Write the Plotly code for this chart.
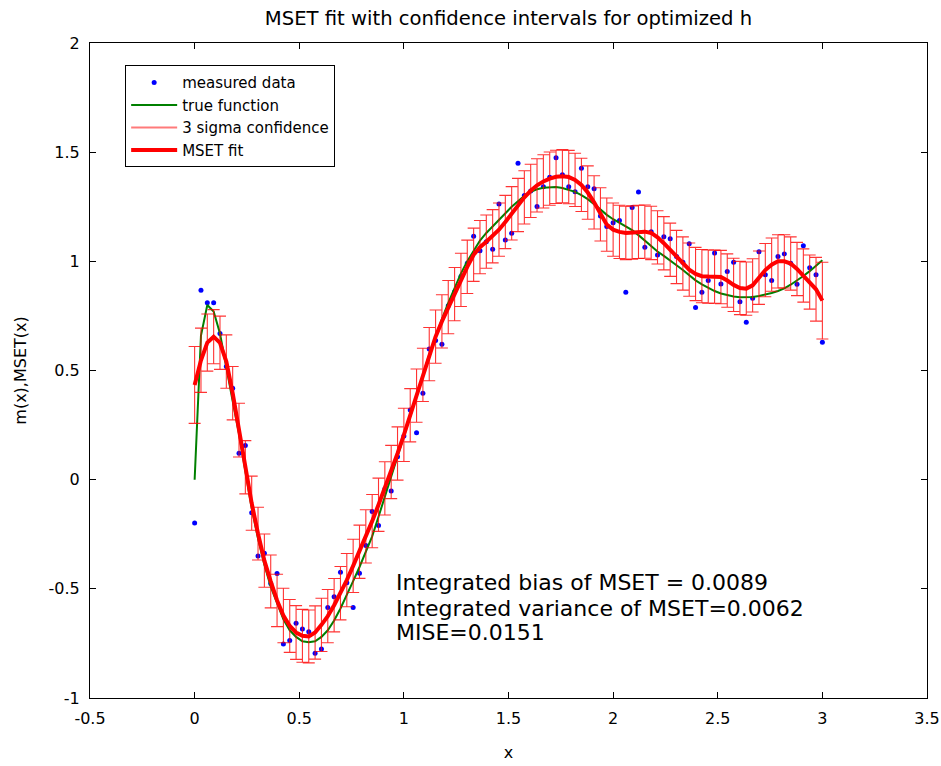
import numpy as np
import plotly.graph_objects as go

# sample grid (100 equally spaced points on [0, 3])
x = np.linspace(0, 3, 100)

measured = [
    -0.198, 0.868, 0.81, 0.81, 0.67, 0.518, 0.419, 0.121, 0.156, -0.151,
    -0.35, -0.337, -0.475, -0.43, -0.753, -0.737, -0.658, -0.684, -0.696, -0.795,
    -0.776, -0.586, -0.536, -0.424, -0.472, -0.586, -0.429, -0.302, -0.146, -0.21,
    -0.043, -0.052, 0.105, 0.2, 0.319, 0.215, 0.396, 0.599, 0.637, 0.62,
    0.796, 0.861, 0.93, 0.991, 1.115, 1.048, 1.09, 1.055, 1.263, 1.098,
    1.129, 1.449, 1.301, 1.322, 1.251, 1.342, 1.385, 1.475, 1.396, 1.342,
    1.319, 1.426, 1.342, 1.332, 1.208, 1.159, 1.177, 1.187, 0.858, 1.246,
    1.317, 1.065, 1.136, 1.029, 1.113, 1.103, 1.022, 0.996, 1.08, 0.788,
    0.858, 0.912, 1.038, 0.896, 0.953, 0.996, 0.815, 0.721, 0.831, 1.044,
    0.938, 0.912, 1.022, 1.034, 0.991, 0.895, 1.071, 0.971, 0.938, 0.629,
]

true_fn = [
    0.0, 0.66, 0.80, 0.77, 0.67, 0.51, 0.36, 0.21, 0.03, -0.13,
    -0.27, -0.39, -0.49, -0.57, -0.64, -0.69, -0.72, -0.74, -0.745, -0.74,
    -0.72, -0.69, -0.645, -0.59, -0.53, -0.465, -0.40, -0.33, -0.26, -0.17,
    -0.078, 0.01, 0.10, 0.19, 0.285, 0.38, 0.475, 0.57, 0.655, 0.735,
    0.81, 0.88, 0.945, 1.0, 1.05, 1.095, 1.13, 1.16, 1.19, 1.22,
    1.25, 1.275, 1.30, 1.318, 1.33, 1.337, 1.34, 1.34, 1.336, 1.328,
    1.318, 1.303, 1.285, 1.262, 1.237, 1.213, 1.193, 1.175, 1.16, 1.143,
    1.12, 1.095, 1.07, 1.045, 1.025, 1.005, 0.982, 0.96, 0.935, 0.913,
    0.895, 0.878, 0.864, 0.853, 0.845, 0.839, 0.836, 0.835, 0.837, 0.841,
    0.847, 0.855, 0.864, 0.876, 0.893, 0.912, 0.933, 0.955, 0.98, 1.005,
]

mset_fit = [
    0.434, 0.547, 0.628, 0.655, 0.627, 0.541, 0.396, 0.227, 0.057, -0.108,
    -0.247, -0.371, -0.466, -0.553, -0.622, -0.670, -0.700, -0.715, -0.718, -0.700,
    -0.665, -0.625, -0.575, -0.52, -0.46, -0.395, -0.33, -0.26, -0.19, -0.115,
    -0.04, 0.035, 0.12, 0.205, 0.295, 0.385, 0.48, 0.575, 0.655, 0.725,
    0.79, 0.85, 0.915, 0.975, 1.03, 1.065, 1.09, 1.115, 1.145, 1.18,
    1.22, 1.258, 1.293, 1.323, 1.348, 1.366, 1.379, 1.387, 1.39, 1.386,
    1.373, 1.35, 1.315, 1.27, 1.215, 1.168, 1.145, 1.135, 1.13, 1.132,
    1.135, 1.136, 1.13, 1.11, 1.083, 1.053, 1.02, 0.99, 0.962, 0.942,
    0.932, 0.93, 0.93, 0.928, 0.912, 0.892, 0.878, 0.875, 0.89, 0.925,
    0.96, 0.985, 1.0, 1.0, 0.99, 0.965, 0.935, 0.905, 0.872, 0.82,
]

sigma3 = [
    0.176, 0.147, 0.131, 0.124, 0.122, 0.122, 0.122, 0.123, 0.122, 0.124,
    0.121, 0.122, 0.121, 0.120, 0.125, 0.121, 0.123, 0.121, 0.121, 0.122,
    0.122, 0.122, 0.122, 0.122, 0.122, 0.122, 0.122, 0.122, 0.122, 0.122,
    0.122, 0.122, 0.122, 0.122, 0.122, 0.122, 0.122, 0.122, 0.122, 0.122,
    0.122, 0.122, 0.122, 0.122, 0.122, 0.122, 0.122, 0.122, 0.122, 0.122,
    0.122, 0.122, 0.122, 0.122, 0.122, 0.122, 0.122, 0.122, 0.122, 0.122,
    0.122, 0.122, 0.122, 0.122, 0.122, 0.122, 0.122, 0.122, 0.122, 0.122,
    0.122, 0.122, 0.122, 0.122, 0.122, 0.122, 0.122, 0.122, 0.122, 0.122,
    0.122, 0.122, 0.122, 0.122, 0.122, 0.122, 0.122, 0.122, 0.122, 0.122,
    0.122, 0.122, 0.122, 0.122, 0.122, 0.122, 0.122, 0.124, 0.146, 0.176,
]

x_tickvals = [-0.5, 0, 0.5, 1, 1.5, 2, 2.5, 3, 3.5]
x_ticktext = ["-0.5", "0", "0.5", "1", "1.5", "2", "2.5", "3", "3.5"]
y_tickvals = [-1, -0.5, 0, 0.5, 1, 1.5, 2]
y_ticktext = ["-1", "-0.5", "0", "0.5", "1", "1.5", "2"]

stats_text = [
    "Integrated bias of MSET = 0.0089",
    "Integrated variance of MSET=0.0062",
    "MISE=0.0151",
]
stats_y = [-0.469, -0.588, -0.702]

FONT = "DejaVu Sans"

fig = go.Figure()
fig.add_trace(go.Scatter(
    x=x, y=measured, mode="markers", name="measured data",
    marker=dict(color="#0000ff", size=5),
))
fig.add_trace(go.Scatter(
    x=x, y=true_fn, mode="lines", name="true function",
    line=dict(color="#008000", width=2),
))
fig.add_trace(go.Scatter(
    x=x, y=mset_fit, mode="lines", name="3 sigma confidence",
    line=dict(color="#ff7a7a", width=2),
    error_y=dict(type="data", array=sigma3, visible=True,
                 color="rgba(255,0,0,0.8)", thickness=1.1, width=6),
))
fig.add_trace(go.Scatter(
    x=x, y=mset_fit, mode="lines", name="MSET fit",
    line=dict(color="#ff0000", width=4),
))

for t, yy in zip(stats_text, stats_y):
    fig.add_annotation(x=0.955, y=yy, xref="x", yref="y", text=t,
                       showarrow=False, xanchor="left", yanchor="middle",
                       font=dict(family=FONT, size=22, color="black"))

axis_common = dict(
    showline=True, linecolor="black", linewidth=1, mirror="ticks",
    ticks="inside", ticklen=6, tickcolor="black", showgrid=False,
    zeroline=False, tickfont=dict(family=FONT, size=16, color="black"),
    ticklabelstandoff=6, automargin=False,
)

fig.update_layout(
    width=941, height=766, autosize=False,
    margin=dict(l=90, r=14, t=43, b=68),
    paper_bgcolor="white", plot_bgcolor="white",
    title=dict(text="MSET fit with confidence intervals for optimized h",
               x=0.5, xref="paper", y=0.976, yanchor="middle",
               font=dict(family=FONT, size=19.6, color="black")),
    xaxis=dict(range=[-0.5, 3.5], tickvals=x_tickvals, ticktext=x_ticktext,
               title=dict(text="x", font=dict(family=FONT, size=16, color="black"),
                          standoff=19),
               **axis_common),
    yaxis=dict(range=[-1, 2], tickvals=y_tickvals, ticktext=y_ticktext,
               title=dict(text="m(x),MSET(x)",
                          font=dict(family=FONT, size=16, color="black"),
                          standoff=17),
               **axis_common),
    legend=dict(x=0.042, y=0.966, xanchor="left", yanchor="top",
                bgcolor="white", bordercolor="black", borderwidth=1,
                font=dict(family=FONT, size=15, color="black"),
                tracegroupgap=0, itemwidth=46, entrywidth=175),
    showlegend=True,
)

fig.write_html("out.html")
